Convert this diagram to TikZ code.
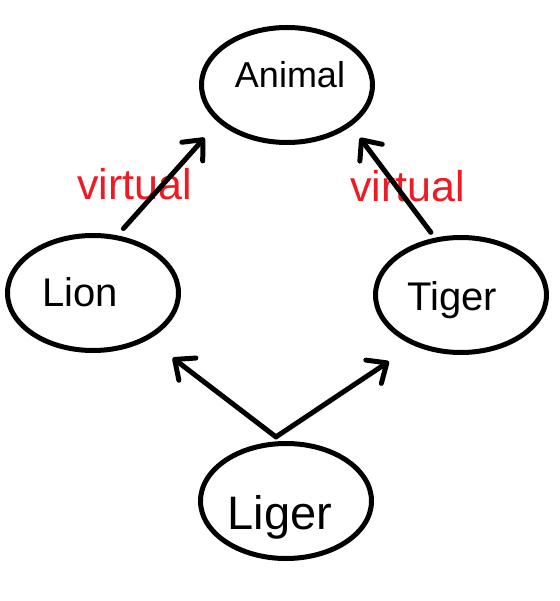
\documentclass[tikz,border=0pt]{standalone}
\usepackage{fontspec}
\setmainfont{Liberation Sans}
\usetikzlibrary{shapes.geometric,arrows.meta}
\definecolor{paintred}{RGB}{237,28,36}
\begin{document}
\begin{tikzpicture}[x=1pt,y=-1pt,
  oval/.style={ellipse, draw=black, line width=5pt, minimum width=171pt, minimum height=115pt, inner sep=0pt, outer sep=0pt},
  arr/.style={draw=black, line width=5pt, line cap=round, line join=round,
    -{Straight Barb[length=16pt, width=28pt, line cap=round, line join=round]}},
  virt/.style={text=paintred, font=\fontsize{43}{48}\selectfont, inner sep=0pt}]
\useasboundingbox[fill=white] (0,0) rectangle (559,601);

\node[oval, label={[name=animal-t, inner sep=0pt, shift={(3pt,10pt)}, font=\fontsize{36}{40}\selectfont]center:Animal}] (animal) at (287,85) {};
\node[oval, label={[name=lion-t, inner sep=0pt, shift={(-13pt,1pt)}, font=\fontsize{40}{44}\selectfont]center:Lion}] (lion) at (93,293) {};
\node[oval, label={[name=tiger-t, inner sep=0pt, shift={(-9pt,-5pt)}, font=\fontsize{40}{44}\selectfont]center:Tiger}] (tiger) at (461,295) {};
\node[oval, label={[name=liger-t, inner sep=0pt, shift={(-6pt,-16pt)}, font=\fontsize{47}{52}\selectfont]center:Liger}] (liger) at (286,501) {};

\node[virt] (virt-l) at (134.5,184) {virtual};
\node[virt] (virt-r) at (407.5,186) {virtual};

\draw[arr, shorten <=12pt, shorten >=23pt] (lion.68.6) -- (animal.208.6);
\draw[arr, shorten <=9.4pt, shorten >=17.2pt] (tiger.114.6) -- (animal.328.9);
\draw[arr, shorten >=33pt] ([yshift=7pt]liger.100) -- (lion.320.8);
\draw[arr, shorten >=32pt] ([yshift=7pt]liger.100) -- (tiger.227.4);
\end{tikzpicture}
\end{document}
